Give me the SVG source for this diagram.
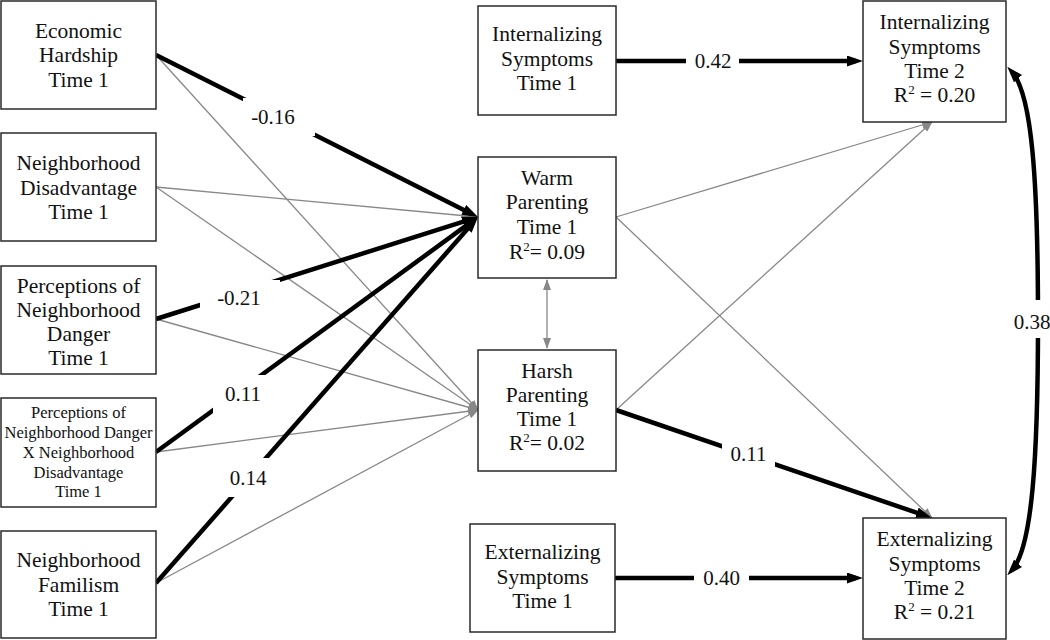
<svg xmlns="http://www.w3.org/2000/svg" width="1050" height="640" viewBox="0 0 1050 640" font-family="Liberation Serif">
<style>
.box{fill:#fff;stroke:#2a2a2a;stroke-width:1.5}
text{font-family:"Liberation Serif","Times New Roman",serif;fill:#111;text-anchor:middle}
.t{font-size:21.5px}
.ts{font-size:16.5px}
.sup{font-size:13px}
.lbl{font-size:21px}
.thick{stroke:#000;stroke-width:4.5;fill:none;marker-end:url(#ab)}
.thin{stroke:#888;stroke-width:1.3;fill:none;marker-end:url(#ag)}
.bg{fill:#fff}
</style>
<defs>
<marker id="ab" markerUnits="userSpaceOnUse" viewBox="0 0 16 11" markerWidth="16" markerHeight="11" refX="9" refY="5.5" orient="auto-start-reverse"><path d="M0,0 L16,5.5 L0,11 z" fill="#000"/></marker>
<marker id="ag" markerUnits="userSpaceOnUse" viewBox="0 0 11 8" markerWidth="11" markerHeight="8" refX="10" refY="4" orient="auto-start-reverse"><path d="M0,0 L11,4 L0,8 z" fill="#888"/></marker>
</defs>
<rect width="1050" height="640" fill="#fff"/>
<g id="connectors">
<line class="thin" x1="156" y1="187" x2="478" y2="217"/>
<line class="thin" x1="156" y1="55" x2="478" y2="410"/>
<line class="thin" x1="156" y1="187" x2="478" y2="410"/>
<line class="thin" x1="156" y1="319" x2="478" y2="410"/>
<line class="thin" x1="156" y1="452" x2="478" y2="410"/>
<line class="thin" x1="156" y1="583" x2="478" y2="410"/>
<line class="thin" x1="616" y1="217" x2="932" y2="122"/>
<line class="thin" x1="616" y1="410" x2="932" y2="122"/>
<line class="thin" x1="616" y1="217" x2="932" y2="518"/>
<line class="thin" x1="547" y1="280" x2="547" y2="348" style="marker-start:url(#ag)"/>
<line class="thick" x1="156" y1="55" x2="471.8" y2="213.9"/>
<line class="thick" x1="156" y1="319" x2="471.3" y2="219.1"/>
<line class="thick" x1="156" y1="452" x2="472.3" y2="221.1"/>
<line class="thick" x1="156" y1="583" x2="473.4" y2="222.3"/>
<line class="thick" x1="616" y1="61" x2="856" y2="61"/>
<line class="thick" x1="615" y1="578" x2="856" y2="578"/>
<line class="thick" x1="616" y1="410" x2="925.4" y2="515.7"/>
<path class="thick" d="M1012,72 C1032,94 1038,180 1038,321 C1038,460 1032,548 1012,570" style="marker-start:url(#ab)"/>
<rect class="bg" x="243" y="98" width="72" height="38"/>
<text class="lbl" x="273" y="124">-0.16</text>
<rect class="bg" x="200" y="280" width="80" height="37"/>
<text class="lbl" x="239" y="305">-0.21</text>
<rect class="bg" x="213" y="375" width="59" height="38"/>
<text class="lbl" x="243" y="401">0.11</text>
<rect class="bg" x="222" y="458" width="53" height="39"/>
<text class="lbl" x="248" y="485">0.14</text>
<rect class="bg" x="686" y="48" width="53" height="26"/>
<text class="lbl" x="713" y="68">0.42</text>
<rect class="bg" x="694" y="565" width="55" height="26"/>
<text class="lbl" x="721.5" y="585">0.40</text>
<rect class="bg" x="722" y="436" width="53" height="36"/>
<text class="lbl" x="748.5" y="461">0.11</text>
<rect class="bg" x="1013" y="300" width="37" height="38"/>
<text class="lbl" x="1032" y="329">0.38</text>
</g>
<g id="economic-hardship">
<rect class="box" x="1" y="1" width="155" height="108"/>
<text class="t" x="78.5" y="38">Economic</text>
<text class="t" x="78.5" y="62">Hardship</text>
<text class="t" x="78.5" y="87">Time 1</text>
</g>
<g id="neighborhood-disadvantage">
<rect class="box" x="1" y="133" width="155" height="108"/>
<text class="t" x="78.5" y="170">Neighborhood</text>
<text class="t" x="78.5" y="194.5">Disadvantage</text>
<text class="t" x="78.5" y="219">Time 1</text>
</g>
<g id="neighborhood-danger">
<rect class="box" x="1" y="266" width="155" height="108"/>
<text class="t" x="78.5" y="293">Perceptions of</text>
<text class="t" x="78.5" y="317">Neighborhood</text>
<text class="t" x="78.5" y="341">Danger</text>
<text class="t" x="78.5" y="365">Time 1</text>
</g>
<g id="danger-x-disadvantage">
<rect class="box" x="1" y="398" width="155" height="109"/>
<text class="ts" x="78.5" y="417.5">Perceptions of</text>
<text class="ts" x="78.5" y="437.5">Neighborhood Danger</text>
<text class="ts" x="78.5" y="457.5">X Neighborhood</text>
<text class="ts" x="78.5" y="477.5">Disadvantage</text>
<text class="ts" x="78.5" y="496.5">Time 1</text>
</g>
<g id="neighborhood-familism">
<rect class="box" x="1" y="531" width="155" height="107"/>
<text class="t" x="78.5" y="567">Neighborhood</text>
<text class="t" x="78.5" y="592">Familism</text>
<text class="t" x="78.5" y="616">Time 1</text>
</g>
<g id="internalizing-t1">
<rect class="box" x="478" y="6" width="138" height="109"/>
<text class="t" x="547" y="41">Internalizing</text>
<text class="t" x="547" y="66">Symptoms</text>
<text class="t" x="547" y="90">Time 1</text>
</g>
<g id="warm-parenting">
<rect class="box" x="478" y="157" width="138" height="121"/>
<text class="t" x="547" y="185">Warm</text>
<text class="t" x="547" y="209">Parenting</text>
<text class="t" x="547" y="234">Time 1</text>
<text class="t" x="547" y="259">R<tspan class="sup" dy="-8">2</tspan><tspan dy="8">= 0.09</tspan></text>
</g>
<g id="harsh-parenting">
<rect class="box" x="478" y="350" width="138" height="121"/>
<text class="t" x="547" y="378">Harsh</text>
<text class="t" x="547" y="402">Parenting</text>
<text class="t" x="547" y="426">Time 1</text>
<text class="t" x="547" y="450">R<tspan class="sup" dy="-8">2</tspan><tspan dy="8">= 0.02</tspan></text>
</g>
<g id="externalizing-t1">
<rect class="box" x="470" y="524" width="145" height="108"/>
<text class="t" x="542.5" y="559">Externalizing</text>
<text class="t" x="542.5" y="584">Symptoms</text>
<text class="t" x="542.5" y="608">Time 1</text>
</g>
<g id="internalizing-t2">
<rect class="box" x="863" y="1" width="143" height="121"/>
<text class="t" x="934.5" y="29">Internalizing</text>
<text class="t" x="934.5" y="54">Symptoms</text>
<text class="t" x="934.5" y="78">Time 2</text>
<text class="t" x="934.5" y="102">R<tspan class="sup" dy="-8">2</tspan><tspan dy="8"> = 0.20</tspan></text>
</g>
<g id="externalizing-t2">
<rect class="box" x="863" y="518" width="143" height="121"/>
<text class="t" x="934.5" y="546">Externalizing</text>
<text class="t" x="934.5" y="571">Symptoms</text>
<text class="t" x="934.5" y="595">Time 2</text>
<text class="t" x="934.5" y="619">R<tspan class="sup" dy="-8">2</tspan><tspan dy="8"> = 0.21</tspan></text>
</g>
</svg>
